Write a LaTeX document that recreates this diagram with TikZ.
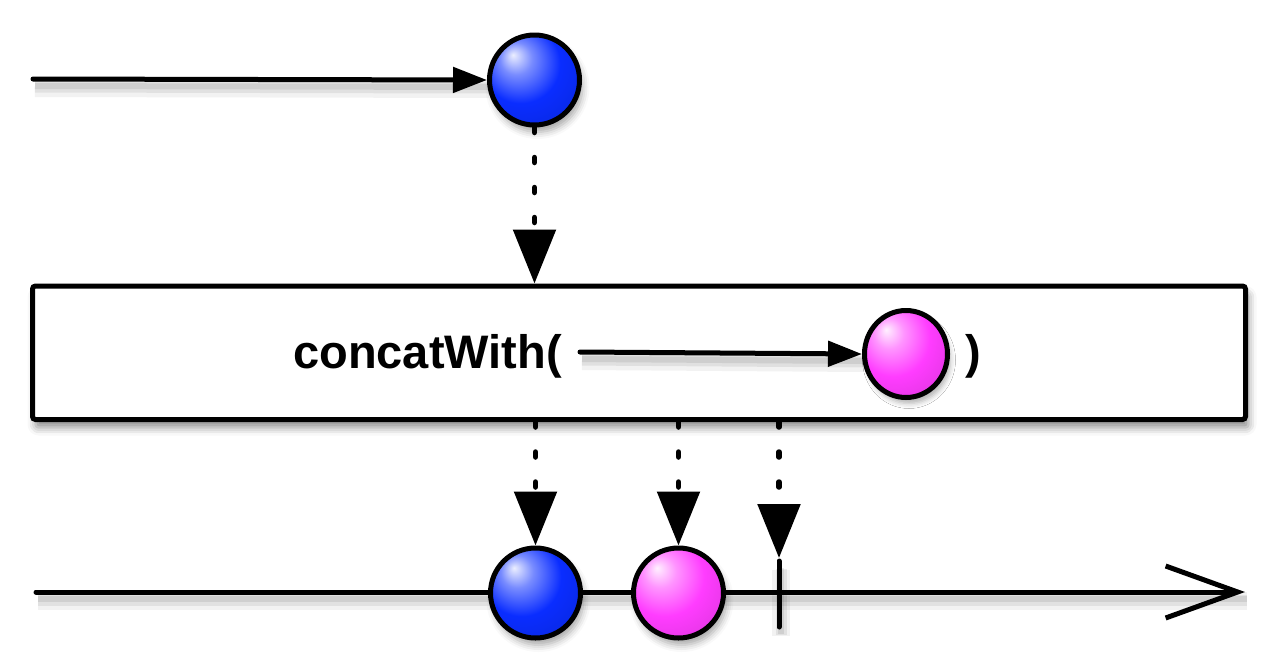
\documentclass[tikz,border=0pt]{standalone}
\usepackage{fontspec}
\setmainfont{Liberation Sans}
\usetikzlibrary{arrows.meta,shapes.geometric,shadows.blur}
\definecolor{mblue}{RGB}{10,45,255}
\definecolor{mpink}{RGB}{255,60,255}
\pgfdeclareradialshading{blueball}{\pgfpoint{-12bp}{14bp}}{%
  color(0bp)=(mblue!8!white); color(9bp)=(mblue!55!white); color(22bp)=(mblue);
  color(42bp)=(mblue!85!black); color(62bp)=(mblue!50!black)}
\pgfdeclareradialshading{pinkball}{\pgfpoint{-12bp}{14bp}}{%
  color(0bp)=(mpink!8!white); color(9bp)=(mpink!55!white); color(22bp)=(mpink);
  color(42bp)=(mpink!85!black); color(62bp)=(mpink!55!black)}
\tikzset{
  lineshadow/.style={
    preaction={draw=black,arrows=-,opacity=0.05,line width=18pt,transform canvas={xshift=2pt,yshift=-9pt}},
    preaction={draw=black,arrows=-,opacity=0.07,line width=11pt,transform canvas={xshift=2pt,yshift=-8pt}},
    preaction={draw=black,arrows=-,opacity=0.08,line width=6pt,transform canvas={xshift=2pt,yshift=-7pt}}},
  nodeshadow/.style={blur shadow={shadow xshift=3pt,shadow yshift=-7pt,shadow blur radius=7pt,shadow opacity=35}},
  marble/.style={circle,draw=black,line width=5pt,minimum size=90pt,inner sep=0pt,nodeshadow},
  flow/.style={line width=5pt,line cap=round},
  dotflow/.style={line width=5.5pt,line cap=round,dash pattern=on 5pt off 25pt,
    -{Triangle[length=54pt,width=42pt]}},
  smallarrow/.style={-{Triangle[length=34pt,width=25pt]}},
  opbox/.style={rectangle,draw=black,line width=5pt,fill=white,rounded corners=3pt,
    minimum width=1213pt,minimum height=133.5pt,inner sep=0pt,
    blur shadow={shadow xshift=3pt,shadow yshift=-8pt,shadow blur radius=8pt,shadow opacity=45}},
  optext/.style={font=\fontsize{47}{56}\selectfont\bfseries,inner sep=0pt},
}
\begin{document}
\begin{tikzpicture}[x=1pt,y=-1pt]
\useasboundingbox (0,0) rectangle (1280,670);

% source line and first item
\coordinate (s0) at (33,79);
\node[marble,shading=blueball] (b1) at (534.5,80) {};
\draw[flow,lineshadow,smallarrow] (s0) -- (b1.west);

% operator box
\node[opbox] (box) at (639,352.75) {};
\draw[dotflow] (b1.south) -- (box.north -| b1);

\node[optext,anchor=base west] (lbl) at (293,368) {concatWith(};
\coordinate (i0) at (580,352);
\node[ellipse,draw=black,line width=5pt,minimum width=83pt,minimum height=87pt,inner sep=0pt,shading=pinkball,
  blur shadow={shadow xshift=3pt,shadow yshift=-6pt,shadow blur radius=5pt,shadow opacity=30}] (p1) at (906,354) {};
\draw[flow,lineshadow,smallarrow] (i0) -- (p1.west);
\node[optext,anchor=base west] (rp) at (965,368) {)};

% result line
\coordinate (e0) at (36,592);
\coordinate (e1) at (1245,592);
\draw[flow,lineshadow,-{Straight Barb[length=72pt,width=52pt]}] (e0) -- (e1);

\coordinate (tk) at (779,558);
\coordinate (tktop) at (779,561);
\coordinate (tkbot) at (779,627);
\draw[flow,lineshadow] (tktop) -- (tkbot);

\node[marble,shading=blueball] (o1) at (535.5,593) {};
\node[marble,shading=pinkball] (o2) at (678.5,593) {};

\draw[dotflow] (box.south -| o1) -- (o1.north);
\draw[dotflow] (box.south -| o2) -- (o2.north);
\draw[dotflow] (box.south -| tk) -- (tk);
\end{tikzpicture}
\end{document}
